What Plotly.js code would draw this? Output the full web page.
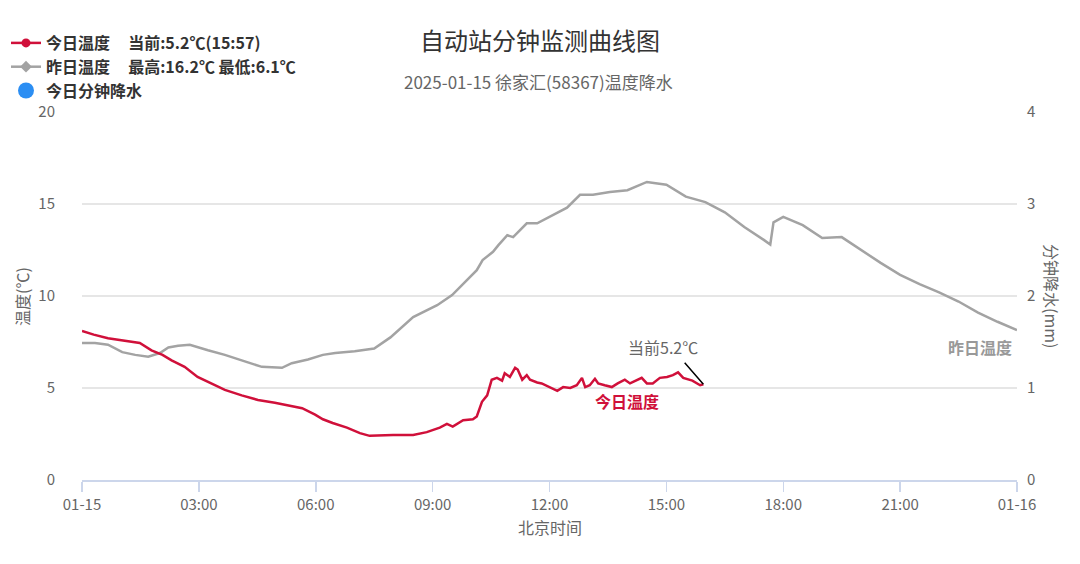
<!DOCTYPE html>
<html>
<head>
<meta charset="utf-8">
<script src="https://cdn.plot.ly/plotly-3.0.1.min.js"></script>
<style>html,body{margin:0;padding:0;background:#fff;}#chart{width:1080px;height:564px;}</style>
</head>
<body>
<div id="chart"></div>
<script>
// ---- data ----
const chartDay = '2025-01-15';
const nextDay = '2025-01-16';

const todayTimes = ['00:00','00:18','00:40','01:06','01:29','01:47','02:04','02:18','02:38','02:58','03:20','03:40','04:06','04:31','04:57','05:23','05:39','05:59','06:11','06:26','06:48','07:08','07:23','07:59','08:30','08:51','09:11','09:22','09:31','09:47','10:02','10:08','10:16','10:24','10:31','10:39','10:47','10:51','10:59','11:07','11:11','11:18','11:25','11:30','11:41','11:48','12:01','12:12','12:21','12:32','12:42','12:50','12:55','13:02','13:10','13:15','13:25','13:36','13:45','13:56','14:04','14:15','14:22','14:30','14:39','14:50','15:01','15:10','15:18','15:26','15:40','15:52','15:57'];
const todayTemps = [8.1,7.9,7.7,7.55,7.45,7.05,6.8,6.5,6.15,5.6,5.25,4.9,4.6,4.35,4.2,4.0,3.9,3.55,3.3,3.1,2.85,2.55,2.4,2.45,2.45,2.6,2.85,3.05,2.9,3.25,3.3,3.45,4.25,4.6,5.45,5.55,5.4,5.8,5.6,6.1,6.0,5.45,5.7,5.45,5.3,5.25,5.05,4.85,5.05,5.0,5.15,5.55,5.05,5.15,5.5,5.25,5.15,5.05,5.25,5.45,5.25,5.45,5.55,5.25,5.25,5.55,5.6,5.7,5.85,5.55,5.4,5.15,5.2];

const yestTimes = ['00:00','00:20','00:40','01:02','01:22','01:42','02:00','02:13','02:28','02:46','03:14','03:40','04:06','04:37','05:08','05:23','05:48','06:11','06:30','07:00','07:30','07:55','08:30','09:07','09:30','09:53','10:08','10:17','10:33','10:41','10:55','11:04','11:25','11:41','12:05','12:27','12:47','13:07','13:33','14:00','14:30','15:00','15:30','16:00','16:30','17:00','17:30','17:40','17:45','18:00','18:30','19:00','19:30','20:00','20:30','21:00','21:30','22:00','22:30','23:00','23:30','24:00'];
const yestTemps = [7.45,7.45,7.35,6.95,6.8,6.7,6.9,7.2,7.3,7.35,7.05,6.8,6.5,6.15,6.1,6.35,6.55,6.8,6.9,7.0,7.15,7.75,8.85,9.5,10.05,10.85,11.4,11.95,12.4,12.75,13.3,13.2,13.95,13.95,14.4,14.8,15.5,15.5,15.65,15.75,16.2,16.05,15.4,15.1,14.55,13.75,13.05,12.8,14.0,14.3,13.85,13.15,13.2,12.5,11.8,11.15,10.65,10.2,9.7,9.1,8.6,8.15];

const rainTimes = [];
const rainValues = [];

const tickTimes = ['00:00','03:00','06:00','09:00','12:00','15:00','18:00','21:00','24:00'];
const tickLabels = ['01-15','03:00','06:00','09:00','12:00','15:00','18:00','21:00','01-16'];
const leftTicks = [0,5,10,15,20];
const rightTicks = [0,1,2,3,4];

const legendToday = '今日温度     当前:5.2℃(15:57)';
const legendYest = '昨日温度     最高:16.2℃ 最低:6.1℃';
const legendRain = '今日分钟降水';

// ---- helpers ----
function toDate(t){
  if(t === '24:00') return nextDay + ' 00:00';
  return chartDay + ' ' + t;
}

const FONT = '"Noto Sans CJK SC", "Noto Sans", sans-serif';
const RED = '#d0103a';
const GRAY = '#a3a3a3';
const BLUE = '#2b8ef3';

const lastT = todayTimes[todayTimes.length-1];
const lastV = todayTemps[todayTemps.length-1];

const traces = [
  {x: yestTimes.map(toDate), y: yestTemps, type:'scatter', mode:'lines', line:{color:GRAY, width:2.5}, showlegend:false, hoverinfo:'skip'},
  {x: todayTimes.map(toDate), y: todayTemps, type:'scatter', mode:'lines', line:{color:RED, width:2.5}, showlegend:false, hoverinfo:'skip'},
  // legend entries
  {x:[null], y:[null], type:'scatter', mode:'lines+markers', name: legendToday, line:{color:RED, width:2.5}, marker:{symbol:'circle', size:9, color:RED}},
  {x:[null], y:[null], type:'scatter', mode:'lines+markers', name: legendYest, line:{color:GRAY, width:2.5}, marker:{symbol:'diamond', size:9, color:GRAY}},
  {x: rainTimes.length ? rainTimes.map(toDate) : [null], y: rainValues.length ? rainValues : [null], yaxis:'y2', type:'scatter', mode:'markers', name: legendRain, marker:{symbol:'circle', size:16, color:BLUE}}
];

const layout = {
  width:1080, height:564,
  margin:{l:82, r:63, t:112, b:84, autoexpand:false},
  paper_bgcolor:'#fff', plot_bgcolor:'#fff',
  font:{family:FONT, color:'#666', size:15},
  title:{text:'自动站分钟监测曲线图', font:{family:FONT, size:24, color:'#333'}, x:0.5, xanchor:'center', y:1-42/564, yanchor:'middle', xref:'container', yref:'container'},
  showlegend:true,
  legend:{x:(6-82)/935, xanchor:'left', y:1+(112-26)/368, yanchor:'top', bgcolor:'rgba(0,0,0,0)', font:{family:FONT, size:16, color:'#333', weight:'bold'}, tracegroupgap:0, itemwidth:30},
  xaxis:{
    type:'date',
    range:[toDate('00:00'), toDate('24:00')],
    tickvals: tickTimes.map(toDate), ticktext: tickLabels,
    showgrid:false, zeroline:false,
    showline:true, linecolor:'#ccd6eb', linewidth:1.5,
    ticks:'outside', tickcolor:'#ccd6eb', ticklen:10, tickwidth:1.5,
    tickfont:{family:FONT, size:15, color:'#666'}
  },
  yaxis:{
    range:[0,20], tickvals:leftTicks, showgrid:true, gridcolor:'#e6e6e6', gridwidth:1.5,
    zeroline:false, showline:false, ticks:'', ticklabelstandoff:26,
    tickfont:{family:FONT, size:15, color:'#666'}
  },
  yaxis2:{
    range:[0,4], tickvals:rightTicks, overlaying:'y', side:'right', showgrid:false,
    zeroline:false, showline:false, ticks:'', ticklabelstandoff:9,
    tickfont:{family:FONT, size:15, color:'#666'}
  },
  annotations:[
    {text:'2025-01-15 徐家汇(58367)温度降水', xref:'paper', yref:'paper', x:(538-82)/935, y:(480-82)/368, xanchor:'center', yanchor:'middle', showarrow:false, font:{family:FONT, size:17, color:'#666'}},
    {text:'温度(℃)', xref:'paper', yref:'paper', x:(22-82)/935, y:0.5, textangle:-90, xanchor:'center', yanchor:'middle', showarrow:false, font:{family:FONT, size:16, color:'#666'}},
    {text:'分钟降水(mm)', xref:'paper', yref:'paper', x:(1052-82)/935, y:0.5, textangle:90, xanchor:'center', yanchor:'middle', showarrow:false, font:{family:FONT, size:16, color:'#666'}},
    {text:'北京时间', xref:'paper', yref:'paper', x:(550-82)/935, y:(480-527)/368, xanchor:'center', yanchor:'middle', showarrow:false, font:{family:FONT, size:16, color:'#666'}},
    {text:'', x:toDate(lastT), y:lastV, xref:'x', yref:'y', showarrow:true, arrowhead:0, arrowwidth:1.5, arrowcolor:'#000', ax:-20, ay:-23},
    {text:'当前' + lastV.toFixed(1) + '℃', x:toDate(lastT), y:lastV, xref:'x', yref:'y', showarrow:false, xshift:-40, yshift:37, font:{family:FONT, size:16, color:'#666'}},
    {text:'<b>今日温度</b>', x:toDate('14:00'), y:4.3, xref:'x', yref:'y', showarrow:false, font:{family:FONT, size:16, color:RED}},
    {text:'<b>昨日温度</b>', x:toDate('23:03'), y:7.23, xref:'x', yref:'y', showarrow:false, font:{family:FONT, size:16, color:'#999'}}
  ]
};

Plotly.newPlot('chart', traces, layout, {displayModeBar:false, staticPlot:true});
</script>
</body>
</html>
